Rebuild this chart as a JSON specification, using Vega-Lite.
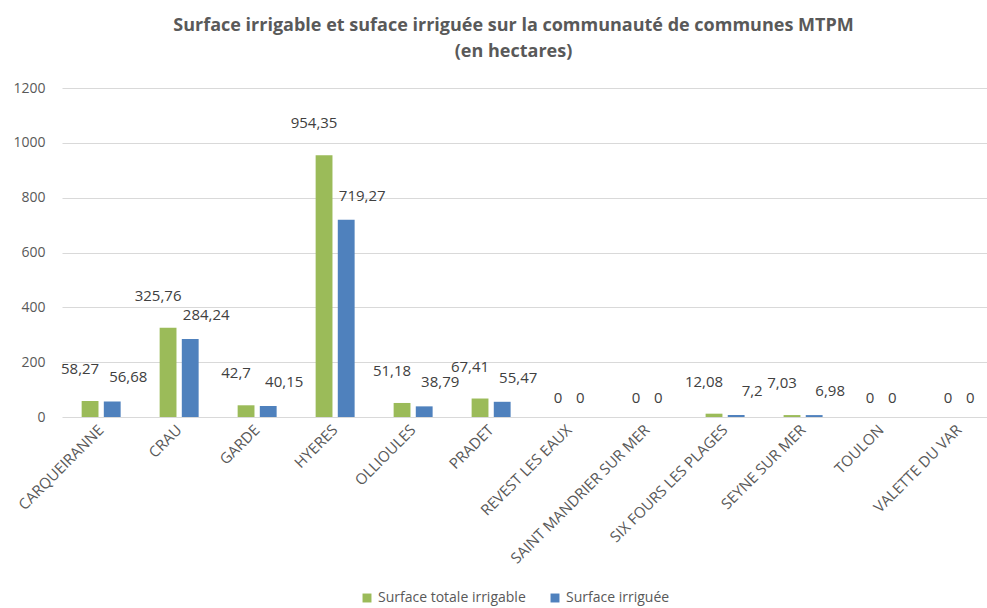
{
  "$schema": "https://vega.github.io/schema/vega-lite/v6.json",
  "width": 925,
  "height": 329,
  "autosize": {"type": "none"},
  "padding": {"left": 62, "top": 88, "right": 0, "bottom": 191},
  "background": "white",
  "title": {
    "text": ["Surface irrigable et suface irriguée sur la communauté de communes MTPM", "(en hectares)"],
    "anchor": "middle",
    "dx": -11,
    "offset": 20,
    "fontSize": 18,
    "font": "Open Sans",
    "fontWeight": "bold",
    "color": "#595959",
    "lineHeight": 26
  },
  "config": {
    "locale": {"number": {"decimal": ",", "thousands": "", "grouping": [3], "currency": ["", " €"]}},
    "view": {"stroke": null},
    "font": "Open Sans",
    "axis": {"labelColor": "#595959", "labelFont": "Open Sans", "titleColor": "#595959"},
    "legend": {"labelColor": "#595959", "labelFont": "Open Sans"}
  },
  "data": {
    "values": [
      {"commune": "CARQUEIRANNE", "serie": "Surface totale irrigable", "valeur": 58.27},
      {"commune": "CARQUEIRANNE", "serie": "Surface irriguée", "valeur": 56.68},
      {"commune": "CRAU", "serie": "Surface totale irrigable", "valeur": 325.76},
      {"commune": "CRAU", "serie": "Surface irriguée", "valeur": 284.24},
      {"commune": "GARDE", "serie": "Surface totale irrigable", "valeur": 42.7},
      {"commune": "GARDE", "serie": "Surface irriguée", "valeur": 40.15},
      {"commune": "HYERES", "serie": "Surface totale irrigable", "valeur": 954.35},
      {"commune": "HYERES", "serie": "Surface irriguée", "valeur": 719.27},
      {"commune": "OLLIOULES", "serie": "Surface totale irrigable", "valeur": 51.18},
      {"commune": "OLLIOULES", "serie": "Surface irriguée", "valeur": 38.79},
      {"commune": "PRADET", "serie": "Surface totale irrigable", "valeur": 67.41},
      {"commune": "PRADET", "serie": "Surface irriguée", "valeur": 55.47},
      {"commune": "REVEST LES EAUX", "serie": "Surface totale irrigable", "valeur": 0},
      {"commune": "REVEST LES EAUX", "serie": "Surface irriguée", "valeur": 0},
      {"commune": "SAINT MANDRIER SUR MER", "serie": "Surface totale irrigable", "valeur": 0},
      {"commune": "SAINT MANDRIER SUR MER", "serie": "Surface irriguée", "valeur": 0},
      {"commune": "SIX FOURS LES PLAGES", "serie": "Surface totale irrigable", "valeur": 12.08},
      {"commune": "SIX FOURS LES PLAGES", "serie": "Surface irriguée", "valeur": 7.2},
      {"commune": "SEYNE SUR MER", "serie": "Surface totale irrigable", "valeur": 7.03},
      {"commune": "SEYNE SUR MER", "serie": "Surface irriguée", "valeur": 6.98},
      {"commune": "TOULON", "serie": "Surface totale irrigable", "valeur": 0},
      {"commune": "TOULON", "serie": "Surface irriguée", "valeur": 0},
      {"commune": "VALETTE DU VAR", "serie": "Surface totale irrigable", "valeur": 0},
      {"commune": "VALETTE DU VAR", "serie": "Surface irriguée", "valeur": 0}
    ]
  },
  "encoding": {
    "x": {
      "field": "commune",
      "type": "nominal",
      "sort": null,
      "title": null,
      "scale": {"paddingInner": 0.5, "paddingOuter": 0.18, "align": 0.7},
      "axis": {
        "labelAngle": -45,
        "labelAlign": "right",
        "labelBaseline": "middle",
        "labelFontSize": 15,
        "labelPadding": 10,
        "ticks": false,
        "domain": false,
        "labelLimit": 300
      }
    },
    "xOffset": {
      "field": "serie",
      "type": "nominal",
      "sort": ["Surface totale irrigable", "Surface irriguée"],
      "scale": {"paddingInner": 0.24, "paddingOuter": 0}
    },
    "y": {
      "field": "valeur",
      "type": "quantitative",
      "title": null,
      "scale": {"domain": [0, 1200]},
      "axis": {
        "values": [0, 200, 400, 600, 800, 1000, 1200],
        "format": "d",
        "labelFontSize": 14,
        "labelPadding": 17,
        "ticks": false,
        "domain": false,
        "gridColor": "#d9d9d9",
        "gridWidth": 1
      }
    }
  },
  "layer": [
    {
      "mark": {"type": "bar"},
      "encoding": {
        "color": {
          "field": "serie",
          "type": "nominal",
          "sort": ["Surface totale irrigable", "Surface irriguée"],
          "scale": {"domain": ["Surface totale irrigable", "Surface irriguée"], "range": ["#9BBB59", "#4F81BD"]},
          "legend": {
            "orient": "none",
            "legendX": 298,
            "legendY": 503,
            "direction": "horizontal",
            "title": null,
            "symbolType": "square",
            "symbolSize": 80,
            "labelFontSize": 14,
            "columnPadding": 22
          }
        }
      }
    },
    {
      "transform": [{"filter": "datum.valeur > 0 && datum.serie == 'Surface totale irrigable'"}],
      "mark": {"type": "text", "dx": -10, "dy": -32, "fontSize": 15, "color": "#404040", "font": "Open Sans"},
      "encoding": {
        "text": {"field": "valeur", "type": "quantitative", "format": ".2~f"}
      }
    },
    {
      "transform": [{"filter": "datum.valeur > 0 && datum.serie == 'Surface irriguée'"}],
      "mark": {"type": "text", "dx": 16, "dy": -24, "fontSize": 15, "color": "#404040", "font": "Open Sans"},
      "encoding": {
        "text": {"field": "valeur", "type": "quantitative", "format": ".2~f"}
      }
    },
    {
      "transform": [{"filter": "datum.valeur == 0"}],
      "mark": {"type": "text", "dy": -19, "fontSize": 15, "color": "#404040", "font": "Open Sans"},
      "encoding": {
        "text": {"field": "valeur", "type": "quantitative", "format": ".2~f"}
      }
    }
  ]
}
